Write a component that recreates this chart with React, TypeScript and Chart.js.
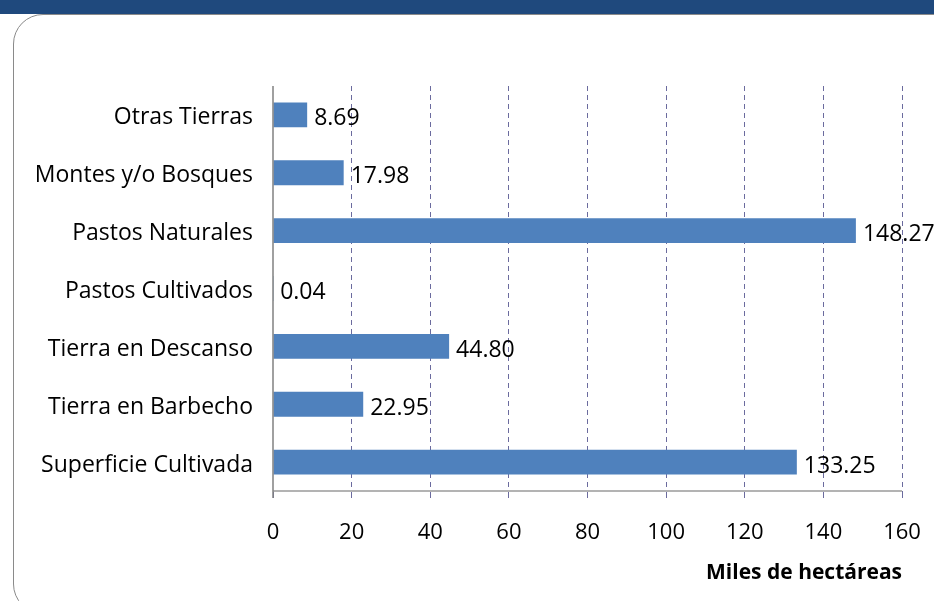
import React, { useEffect, useRef } from "react";
import { Chart, registerables } from "chart.js";

Chart.register(...registerables);

const categories = [
  "Otras Tierras",
  "Montes y/o Bosques",
  "Pastos Naturales",
  "Pastos Cultivados",
  "Tierra en Descanso",
  "Tierra en Barbecho",
  "Superficie Cultivada",
];
const values = [8.69, 17.98, 148.27, 0.04, 44.8, 22.95, 133.25];
const valueLabels = ["8.69", "17.98", "148.27", "0.04", "44.80", "22.95", "133.25"];
const axisTitle = "Miles de hectáreas";
const xMin = 0;
const xMax = 160;
const xStep = 20;

const FONT = "'Open Sans', 'Noto Sans', sans-serif";

const valueLabelPlugin = {
  id: "valueLabels",
  afterDatasetsDraw(chart: any) {
    const { ctx, chartArea } = chart;
    ctx.save();
    // axis lines
    ctx.strokeStyle = "#b3b3b3";
    ctx.lineWidth = 2;
    ctx.beginPath();
    ctx.moveTo(chartArea.left, chartArea.bottom);
    ctx.lineTo(chartArea.right, chartArea.bottom);
    ctx.stroke();
    ctx.strokeStyle = "#6b6b9e";
    ctx.lineWidth = 1;
    ctx.beginPath();
    ctx.moveTo(chartArea.right + 0.5, chartArea.bottom);
    ctx.lineTo(chartArea.right + 0.5, chartArea.bottom + 7);
    ctx.stroke();
    ctx.strokeStyle = "#808080";
    ctx.lineWidth = 1.5;
    ctx.beginPath();
    ctx.moveTo(chartArea.left, chartArea.top);
    ctx.lineTo(chartArea.left, chartArea.bottom + 7);
    ctx.stroke();

    const meta = chart.getDatasetMeta(0);
    ctx.font = `23px ${FONT}`;
    ctx.fillStyle = "#000";
    ctx.textAlign = "left";
    ctx.textBaseline = "middle";
    meta.data.forEach((bar: any, i: number) => {
      ctx.fillText(valueLabels[i], bar.x + 7, bar.y + 4);
    });
    ctx.restore();
  },
};

export default function App() {
  const ref = useRef<HTMLCanvasElement>(null);
  useEffect(() => {
    if (!ref.current) return;
    const chart = new Chart(ref.current, {
      type: "bar",
      data: {
        labels: categories,
        datasets: [
          {
            data: values,
            backgroundColor: "#4f81bd",
            borderWidth: 0,
            barPercentage: 0.86,
            categoryPercentage: 0.5,
          },
        ],
      },
      options: {
        indexAxis: "y",
        animation: false,
        responsive: false,
        maintainAspectRatio: false,
        layout: { padding: { top: 86, right: 0, left: 0, bottom: 0 } },
        plugins: {
          legend: { display: false },
          tooltip: { enabled: false },
        },
        scales: {
          x: {
            min: xMin,
            max: xMax,
            afterFit: (s: any) => {
              s.height = 110;
              s.paddingRight = 32;
              s.paddingLeft = 0;
            },
            ticks: {
              stepSize: xStep,
              color: "#000",
              font: { family: FONT, size: 22 },
              padding: 22,
            },
            grid: {
              color: (c: any) => (c.tick && c.tick.value === 0 ? "rgba(0,0,0,0)" : "#6b6b9e"),
              lineWidth: 1,
              tickLength: 7,
              drawTicks: true,
              tickColor: "#6b6b9e",
            },
            border: { dash: [5, 4], display: false },
            title: {
              display: true,
              text: axisTitle,
              align: "end",
              color: "#000",
              font: { family: FONT, size: 21, weight: "bold" },
              padding: { top: 0, bottom: 15 },
            },
          },
          y: {
            afterFit: (s: any) => {
              s.width = 273;
            },
            ticks: {
              color: "#000",
              font: { family: FONT, size: 23 },
              padding: 20,
              labelOffset: 3,
            },
            grid: { display: false, drawTicks: false },
            border: { display: false },
          },
        },
      },
      plugins: [valueLabelPlugin],
    });
    return () => chart.destroy();
  }, []);

  return (
    <div
      style={{
        position: "fixed",
        left: 0,
        top: 0,
        width: 934,
        height: 601,
        background: "#fff",
        overflow: "hidden",
      }}
    >
      <div
        style={{
          position: "absolute",
          left: 0,
          top: 0,
          width: 934,
          height: 14,
          background: "#1f497d",
        }}
      />
      <div
        style={{
          position: "absolute",
          left: 13,
          top: 14,
          width: 960,
          height: 598,
          border: "1.5px solid #8a8a8a",
          borderRadius: 30,
        }}
      />
      <canvas
        ref={ref}
        width={934}
        height={601}
        style={{ position: "absolute", left: 0, top: 0 }}
      />
    </div>
  );
}
